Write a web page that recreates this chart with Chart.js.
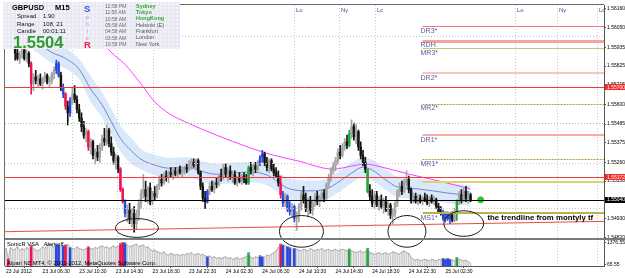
<!DOCTYPE html>
<html>
<head>
<meta charset="utf-8">
<script src="https://cdn.jsdelivr.net/npm/chart.js@4.4.1/dist/chart.umd.min.js"></script>
<style>
  html, body { margin: 0; padding: 0; background: #fff; }
  #wrap { position: relative; width: 625px; height: 278px; overflow: hidden; }
  #info {
    position: absolute; left: 3px; top: 2px; width: 177px; height: 47px;
    background-color: #e9e9f3;
    background-image: radial-gradient(#fbfbff 0.6px, transparent 0.9px);
    background-size: 4px 4px;
    font-family: 'Liberation Sans', Arial, sans-serif;
  }
  #info span { position: absolute; white-space: nowrap; line-height: 1; }
</style>
</head>
<body>
<div id="wrap">
  <canvas id="chart" width="625" height="278"></canvas>
  <div id="info"></div>
</div>
<script>
const FONT = "'Liberation Sans', Arial, sans-serif";

// ---- GBPUSD M15 bars, 23 Jul 02:30 .. 25 Jul ----
const opens = [
  1.5599,1.5597,1.5595,1.5596,1.5594,1.5590,1.5587,1.5589,1.5592,1.5587,
  1.5590,1.5584,1.5572,1.5576,1.5574,1.5575,1.5572,1.5575,1.5577,1.5573,
  1.5574,1.5578,1.5580,1.5584,1.5577,1.5570,1.5566,1.5559,1.5555,1.5562,
  1.5566,1.5563,1.5557,1.5552,1.5547,1.5542,1.5544,1.5535,1.5538,1.5530,
  1.5532,1.5529,1.5535,1.5540,1.5538,1.5545,1.5537,1.5532,1.5527,1.5529,
  1.5522,1.5510,1.5503,1.5496,1.5498,1.5493,1.5496,1.5490,1.5495,1.5502,
  1.5508,1.5510,1.5506,1.5511,1.5503,1.5508,1.5506,1.5512,1.5516,1.5514,
  1.5518,1.5517,1.5520,1.5519,1.5521,1.5519,1.5522,1.5520,1.5521,1.5523,
  1.5522,1.5525,1.5526,1.5524,1.5527,1.5520,1.5512,1.5505,1.5503,1.5509,
  1.5512,1.5510,1.5514,1.5513,1.5518,1.5517,1.5523,1.5519,1.5521,1.5517,
  1.5519,1.5514,1.5517,1.5515,1.5518,1.5516,1.5514,1.5523,1.5521,1.5524,
  1.5522,1.5526,1.5529,1.5531,1.5526,1.5523,1.5527,1.5522,1.5520,1.5518,
  1.5514,1.5507,1.5502,1.5506,1.5499,1.5497,1.5500,1.5493,1.5495,1.5500,
  1.5507,1.5504,1.5499,1.5503,1.5498,1.5502,1.5506,1.5503,1.5505,1.5508,
  1.5505,1.5513,1.5517,1.5521,1.5524,1.5527,1.5532,1.5530,1.5535,1.5538,
  1.5536,1.5543,1.5547,1.5541,1.5544,1.5535,1.5530,1.5526,1.5522,1.5509,
  1.5506,1.5502,1.5507,1.5501,1.5504,1.5500,1.5503,1.5498,1.5501,1.5495,
  1.5496,1.5502,1.5509,1.5512,1.5509,1.5514,1.5516,1.5510,1.5504,1.5506,
  1.5503,1.5505,1.5503,1.5505,1.5504,1.5502,1.5505,1.5503,1.5504,1.5500,
  1.5497,1.5496,1.5493,1.5496,1.5493,1.5495,1.5492,1.5497,1.5503,1.5507,
  1.5504,1.5509,1.5505,1.5507
];
const highs = [
  1.5602,1.5599,1.5598,1.5598,1.5595,1.5593,1.5591,1.5594,1.5594,1.5592,
  1.5591,1.5585,1.5578,1.5580,1.5577,1.5578,1.5576,1.5579,1.5578,1.5576,
  1.5579,1.5582,1.5586,1.5585,1.5579,1.5572,1.5567,1.5562,1.5564,1.5570,
  1.5571,1.5565,1.5560,1.5555,1.5550,1.5546,1.5545,1.5540,1.5539,1.5534,
  1.5536,1.5537,1.5542,1.5546,1.5548,1.5546,1.5541,1.5535,1.5531,1.5530,
  1.5523,1.5511,1.5504,1.5501,1.5502,1.5499,1.5500,1.5498,1.5504,1.5510,
  1.5519,1.5515,1.5512,1.5514,1.5509,1.5512,1.5513,1.5518,1.5519,1.5520,
  1.5521,1.5521,1.5523,1.5522,1.5523,1.5523,1.5524,1.5523,1.5524,1.5525,
  1.5527,1.5528,1.5528,1.5528,1.5528,1.5521,1.5514,1.5509,1.5510,1.5514,
  1.5515,1.5515,1.5517,1.5519,1.5522,1.5525,1.5525,1.5523,1.5524,1.5521,
  1.5521,1.5518,1.5520,1.5519,1.5520,1.5519,1.5524,1.5526,1.5525,1.5526,
  1.5527,1.5530,1.5533,1.5532,1.5529,1.5528,1.5528,1.5525,1.5523,1.5521,
  1.5518,1.5509,1.5508,1.5507,1.5503,1.5502,1.5501,1.5497,1.5502,1.5509,
  1.5512,1.5508,1.5505,1.5506,1.5504,1.5508,1.5509,1.5507,1.5510,1.5510,
  1.5514,1.5519,1.5523,1.5526,1.5529,1.5534,1.5536,1.5537,1.5540,1.5542,
  1.5545,1.5551,1.5549,1.5548,1.5545,1.5538,1.5533,1.5529,1.5522,1.5513,
  1.5510,1.5509,1.5509,1.5506,1.5507,1.5505,1.5506,1.5503,1.5502,1.5499,
  1.5503,1.5510,1.5514,1.5515,1.5516,1.5521,1.5518,1.5511,1.5508,1.5508,
  1.5507,1.5507,1.5506,1.5508,1.5507,1.5506,1.5507,1.5506,1.5505,1.5502,
  1.5500,1.5498,1.5497,1.5497,1.5496,1.5497,1.5499,1.5504,1.5509,1.5510,
  1.5511,1.5512,1.5509,1.5508
];
const lows = [
  1.5596,1.5594,1.5593,1.5593,1.5586,1.5586,1.5584,1.5587,1.5586,1.5585,
  1.5582,1.5566,1.5568,1.5572,1.5570,1.5571,1.5569,1.5573,1.5572,1.5570,
  1.5572,1.5575,1.5578,1.5576,1.5568,1.5564,1.5557,1.5548,1.5553,1.5560,
  1.5561,1.5555,1.5550,1.5544,1.5540,1.5538,1.5533,1.5531,1.5528,1.5525,
  1.5527,1.5526,1.5533,1.5536,1.5536,1.5535,1.5530,1.5525,1.5522,1.5520,
  1.5509,1.5502,1.5494,1.5491,1.5490,1.5488,1.5485,1.5487,1.5492,1.5499,
  1.5505,1.5503,1.5502,1.5501,1.5501,1.5504,1.5505,1.5510,1.5512,1.5513,
  1.5515,1.5514,1.5517,1.5516,1.5518,1.5517,1.5519,1.5517,1.5519,1.5520,
  1.5521,1.5522,1.5523,1.5522,1.5519,1.5510,1.5503,1.5499,1.5502,1.5507,
  1.5509,1.5508,1.5511,1.5512,1.5515,1.5516,1.5517,1.5515,1.5516,1.5514,
  1.5513,1.5512,1.5514,1.5513,1.5514,1.5513,1.5513,1.5519,1.5518,1.5520,
  1.5521,1.5524,1.5526,1.5524,1.5521,1.5520,1.5521,1.5518,1.5517,1.5512,
  1.5505,1.5500,1.5500,1.5497,1.5495,1.5494,1.5491,1.5486,1.5491,1.5498,
  1.5502,1.5497,1.5494,1.5496,1.5495,1.5500,1.5501,1.5500,1.5503,1.5503,
  1.5504,1.5511,1.5515,1.5519,1.5521,1.5525,1.5528,1.5529,1.5533,1.5534,
  1.5535,1.5540,1.5539,1.5537,1.5533,1.5528,1.5524,1.5520,1.5508,1.5504,
  1.5500,1.5499,1.5500,1.5498,1.5499,1.5496,1.5497,1.5495,1.5493,1.5490,
  1.5494,1.5500,1.5506,1.5507,1.5508,1.5512,1.5508,1.5502,1.5502,1.5502,
  1.5501,1.5502,1.5501,1.5503,1.5501,1.5500,1.5502,1.5501,1.5499,1.5496,
  1.5495,1.5492,1.5491,1.5492,1.5490,1.5491,1.5491,1.5492,1.5501,1.5502,
  1.5503,1.5503,1.5502,1.5503
];
const closes = [
  1.5597,1.5595,1.5596,1.5594,1.5590,1.5587,1.5589,1.5592,1.5587,1.5590,
  1.5584,1.5572,1.5576,1.5574,1.5575,1.5572,1.5575,1.5577,1.5573,1.5574,
  1.5578,1.5580,1.5584,1.5577,1.5570,1.5566,1.5559,1.5555,1.5562,1.5566,
  1.5563,1.5557,1.5552,1.5547,1.5542,1.5544,1.5535,1.5538,1.5530,1.5532,
  1.5529,1.5535,1.5540,1.5538,1.5545,1.5537,1.5532,1.5527,1.5529,1.5522,
  1.5510,1.5503,1.5496,1.5498,1.5493,1.5496,1.5490,1.5495,1.5502,1.5508,
  1.5510,1.5506,1.5511,1.5503,1.5508,1.5506,1.5512,1.5516,1.5514,1.5518,
  1.5517,1.5520,1.5519,1.5521,1.5519,1.5522,1.5520,1.5521,1.5523,1.5522,
  1.5525,1.5526,1.5524,1.5527,1.5520,1.5512,1.5505,1.5503,1.5509,1.5512,
  1.5510,1.5514,1.5513,1.5518,1.5517,1.5523,1.5519,1.5521,1.5517,1.5519,
  1.5514,1.5517,1.5515,1.5518,1.5516,1.5514,1.5523,1.5521,1.5524,1.5522,
  1.5526,1.5529,1.5531,1.5526,1.5523,1.5527,1.5522,1.5520,1.5518,1.5514,
  1.5507,1.5502,1.5506,1.5499,1.5497,1.5500,1.5493,1.5495,1.5500,1.5507,
  1.5504,1.5499,1.5503,1.5498,1.5502,1.5506,1.5503,1.5505,1.5508,1.5505,
  1.5513,1.5517,1.5521,1.5524,1.5527,1.5532,1.5530,1.5535,1.5538,1.5536,
  1.5543,1.5547,1.5541,1.5544,1.5535,1.5530,1.5526,1.5522,1.5509,1.5506,
  1.5502,1.5507,1.5501,1.5504,1.5500,1.5503,1.5498,1.5501,1.5495,1.5496,
  1.5502,1.5509,1.5512,1.5509,1.5514,1.5516,1.5510,1.5504,1.5506,1.5503,
  1.5505,1.5503,1.5505,1.5504,1.5502,1.5505,1.5503,1.5504,1.5500,1.5497,
  1.5496,1.5493,1.5496,1.5493,1.5495,1.5492,1.5497,1.5503,1.5507,1.5504,
  1.5509,1.5505,1.5507,1.5504
];
const volumes = [
  1050,420,1100,950,1000,1150,900,1050,950,1100,
  1000,1250,1050,950,900,1000,1150,1050,1250,1300,
  1200,1100,1300,1250,1150,1200,1250,1300,1100,1050,
  1000,1150,1050,1000,950,1050,1150,1050,1000,1100,
  1050,1150,1200,1100,1150,1050,1100,1200,1100,1150,
  1350,1400,1380,1250,1150,1200,1250,1300,1150,1200,
  1250,1100,1150,1000,900,950,850,800,750,850,
  700,650,750,700,650,700,600,700,650,750,
  700,800,650,700,750,650,700,600,550,600,
  500,550,450,500,450,500,550,450,500,400,
  450,500,400,450,500,550,780,500,450,550,
  500,600,550,500,650,600,700,800,900,1100,
  1300,1250,1200,1150,1100,1000,1050,1000,950,900,
  1000,950,900,1050,950,900,1000,950,1050,900,
  950,1000,900,950,1000,900,950,1000,950,900,
  1010,900,850,800,850,900,800,850,1050,800,
  750,700,750,800,700,750,800,700,750,850,
  800,750,700,850,900,800,750,500,400,350,
  400,300,350,400,350,300,400,350,300,400,
  350,450,400,450,400,350,300,500,400,350,
  300,350,250,150
];

// SonicR VSA highlighted bars (bar numbers)
const redBars = [1, 11, 26, 36, 50, 51, 120];
const blueBars = [22, 23, 25, 28, 52, 88, 111, 112, 121, 123, 124, 126, 191, 192, 193, 194];
const greenBars = [106, 150, 158, 197];

// moving averages (sampled)
const blueMaBars = [12, 20, 26, 32, 37, 42, 46, 50, 55, 59, 65, 71, 79, 85, 92, 99, 107, 114, 124, 133, 140, 146, 151, 156, 160, 166, 171, 180, 193, 203];
const blueMa = [1.55980, 1.55905, 1.55870, 1.55806, 1.55690, 1.55597, 1.55499, 1.55400, 1.55325, 1.55278, 1.55244, 1.55226, 1.55232, 1.55209, 1.55190, 1.55197, 1.55203, 1.55186, 1.55104, 1.55093, 1.55104, 1.55151, 1.55197, 1.55232, 1.55215, 1.55157, 1.55116, 1.55104, 1.55080, 1.55064];
const bandUpper = [1.56040, 1.55965, 1.55930, 1.55866, 1.55765, 1.55672, 1.55574, 1.55475, 1.55400, 1.55338, 1.55304, 1.55286, 1.55292, 1.55269, 1.55250, 1.55257, 1.55263, 1.55246, 1.55164, 1.55153, 1.55164, 1.55211, 1.55257, 1.55292, 1.55275, 1.55217, 1.55176, 1.55164, 1.55140, 1.55124];
const bandLower = [1.55920, 1.55845, 1.55810, 1.55746, 1.55615, 1.55522, 1.55424, 1.55325, 1.55250, 1.55218, 1.55184, 1.55166, 1.55172, 1.55149, 1.55130, 1.55137, 1.55143, 1.55126, 1.55044, 1.55033, 1.55044, 1.55091, 1.55137, 1.55172, 1.55155, 1.55097, 1.55056, 1.55044, 1.55020, 1.55004];
const magentaBars = [30, 38, 46, 52, 59, 65, 72, 78, 85, 99, 114, 128, 143, 151, 157, 166, 176, 189, 203];
const magentaMa = [1.56100, 1.56030, 1.55905, 1.55835, 1.55720, 1.55615, 1.55540, 1.55500, 1.55458, 1.55383, 1.55313, 1.55267, 1.55220, 1.55238, 1.55250, 1.55226, 1.55191, 1.55151, 1.55104];

// axes
const priceTicks = [1.54820, 1.54930, 1.55040, 1.55150, 1.55260, 1.55375, 1.55485, 1.55600, 1.55715, 1.55825, 1.55935, 1.56050, 1.56160];
const volumeTicks = [65.55, 1376.55];
const timeTickBars = [0, 16, 32, 48, 64, 80, 96, 112, 128, 144, 160, 176, 192];
const timeTickLabels = ['23 Jul 2012', '23 Jul 06:30', '23 Jul 10:30', '23 Jul 14:30', '23 Jul 18:30', '23 Jul 22:30', '24 Jul 02:30', '24 Jul 06:30', '24 Jul 10:30', '24 Jul 14:30', '24 Jul 18:30', '24 Jul 22:30', '25 Jul 02:30'];

// session separators
const londonOpenBars = [28.7, 125.7, 222.6];
const nyOpenBars = [48.7, 145.7, 240.9];
const londonCloseBars = [64.3, 161.3, 258.3];

// horizontal levels
const levelPrices = [1.56000, 1.55700, 1.55493, 1.55255, 1.55172, 1.55040, 1.54994];
const levelKinds = ['lavender', 'red', 'green', 'pink', 'red', 'bid', 'gray'];
const pivotNames = ['DR3*', 'RDH', 'MR3*', 'DR2*', 'MR2*', 'DR1*', 'MR1*', 'P', 'MS1*'];
const pivotPrices = [1.56058, 1.55974, 1.55928, 1.55783, 1.55603, 1.55418, 1.55278, 1.55145, 1.54960];
const pivotStartBar = 182;
const trendBars = [-1, 262];
const trendPrices = [1.54853, 1.54914];
const bidBar = 207.4;
const bidPrice = 1.55040;
const axisMarkPrices = [1.55700, 1.55172, 1.55040];
const axisMarkKinds = ['red', 'red', 'bid'];

// hand drawn circles (bar, price, half width in bars, half height in price)
const circleBars = [57.2, 129.1, 175.2, 200];
const circlePrices = [1.54875, 1.54855, 1.54855, 1.54901];
const circleBarSpan = [9.35, 9.6, 8.3, 8.7];
const circlePriceSpan = [0.00055, 0.00093, 0.00093, 0.00075];
const noteBar = 210.4;
const noteText = 'the trendline from montyly tf';

// info panel
const clockTimes = ['12:58 PM', '11:58 AM', '10:58 AM', '05:58 AM', '04:58 AM', '03:58 AM', '10:58 PM'];
const clockCities = ['Sydney', 'Tokyo', 'HongKong', 'Helsinki (E)', 'Frankfurt', 'London', 'New York'];
const openMarkets = ['Sydney', 'Tokyo', 'HongKong'];

// ---- styles ----
const RED = '#f0124c', BLUE = '#2a48de', GREEN = '#1ea83c', UP = '#a4a4a4', DOWN = '#141414';
const LEVEL_STYLE = {
  lavender: { color: '#bcbce8', width: 1, dash: [1, 2] },
  red: { color: '#f23a3a', width: 1, dash: [] },
  green: { color: '#7ed87e', width: 1, dash: [1, 2] },
  pink: { color: '#e4bccc', width: 1, dash: [1, 2] },
  bid: { color: '#000000', width: 1, dash: [] },
  gray: { color: '#c8c8c8', width: 1, dash: [1, 2] }
};
const PIVOT_STYLE = {
  'DR3*': { color: '#f07a7a', width: 1, dash: [] },
  'RDH': { color: '#f4a4a0', width: 3, dash: [] },
  'MR3*': { color: '#c8c47c', width: 1, dash: [] },
  'DR2*': { color: '#f8c4bc', width: 2, dash: [] },
  'MR2*': { color: '#b4a032', width: 1, dash: [2, 1] },
  'DR1*': { color: '#f4aca4', width: 2, dash: [] },
  'MR1*': { color: '#b4a032', width: 1, dash: [2, 1] },
  'P': { color: '#dcd46c', width: 2, dash: [], hideLabel: true },
  'MS1*': { color: '#bcb050', width: 2, dash: [] }
};

function vsaColor(k) {
  if (redBars.includes(k)) return RED;
  if (blueBars.includes(k)) return BLUE;
  if (greenBars.includes(k)) return GREEN;
  return null;
}

const candleColors = closes.map((c, k) => vsaColor(k) || (c >= opens[k] ? UP : DOWN));
const flaggedVolume = volumes.map((v, k) => ({ x: k, y: v, c: vsaColor(k) })).filter(p => p.c);

function crisp(v, w) { return w % 2 ? Math.round(v) + 0.5 : Math.round(v); }

function hLine(ctx, x0, x1, py, st) {
  ctx.setLineDash(st.dash);
  ctx.strokeStyle = st.color;
  ctx.lineWidth = st.width;
  const yy = crisp(py, st.width);
  ctx.beginPath(); ctx.moveTo(x0, yy); ctx.lineTo(x1, yy); ctx.stroke();
}

const mtOverlay = {
  id: 'mtOverlay',
  beforeDatasetsDraw(chart) {
    const { ctx, chartArea: area, scales: { x } } = chart;
    ctx.save();
    ctx.beginPath();
    ctx.rect(area.left, area.top, area.right - area.left, area.bottom - area.top);
    ctx.clip();
    ctx.setLineDash([1, 2]);
    ctx.strokeStyle = '#c6c6dc';
    ctx.lineWidth = 1;
    [...londonOpenBars, ...nyOpenBars, ...londonCloseBars].forEach(b => {
      const px = Math.round(x.getPixelForValue(b)) + 0.5;
      ctx.beginPath(); ctx.moveTo(px, area.top); ctx.lineTo(px, area.bottom); ctx.stroke();
    });
    ctx.restore();
  },
  afterDatasetsDraw(chart) {
    const { ctx, chartArea: area, scales: { x, y } } = chart;
    ctx.save();
    ctx.beginPath();
    ctx.rect(area.left, area.top, area.right - area.left, y.bottom - area.top);
    ctx.clip();

    levelPrices.forEach((p, i) => hLine(ctx, area.left, area.right, y.getPixelForValue(p), LEVEL_STYLE[levelKinds[i]]));

    const px0 = x.getPixelForValue(pivotStartBar);
    pivotNames.forEach((name, i) => hLine(ctx, px0, area.right, y.getPixelForValue(pivotPrices[i]), PIVOT_STYLE[name]));
    ctx.setLineDash([]);

    ctx.font = '7px ' + FONT;
    ctx.fillStyle = '#5a5aa0';
    ctx.textBaseline = 'middle';
    ctx.textAlign = 'left';
    pivotNames.forEach((name, i) => {
      if (PIVOT_STYLE[name].hideLabel) return;
      ctx.fillText(name, px0 - 2, y.getPixelForValue(pivotPrices[i]) + 4.5);
    });

    ctx.font = 'bold 7.8px ' + FONT;
    ctx.fillStyle = '#000';
    ctx.fillText(noteText, x.getPixelForValue(noteBar), y.getPixelForValue(pivotPrices[8]) + 4.5);

    ctx.font = '6px ' + FONT;
    ctx.fillStyle = '#4b4b96';
    [['Lo', londonOpenBars], ['Ny', nyOpenBars], ['Lc', londonCloseBars]].forEach(([name, bars]) => {
      bars.forEach(b => ctx.fillText(name, Math.round(x.getPixelForValue(b)) + 2, area.top + 5));
    });
    ctx.restore();

    // circles drawn by hand on the chart
    ctx.save();
    ctx.strokeStyle = '#1a1a1a';
    ctx.lineWidth = 1;
    circleBars.forEach((b, i) => {
      const cx = x.getPixelForValue(b);
      const cy = y.getPixelForValue(circlePrices[i]);
      const rx = Math.abs(x.getPixelForValue(b + circleBarSpan[i]) - cx);
      const ry = Math.abs(y.getPixelForValue(circlePrices[i] + circlePriceSpan[i]) - cy);
      ctx.beginPath(); ctx.ellipse(cx, cy, rx, ry, 0, 0, Math.PI * 2); ctx.stroke();
    });
    ctx.restore();
  },
  afterDraw(chart) {
    const { ctx, chartArea: area, scales: { y, yv } } = chart;
    const W = chart.width;
    ctx.save();
    // frame
    ctx.strokeStyle = '#6a6a6a';
    ctx.lineWidth = 1;
    ctx.beginPath();
    ctx.moveTo(area.left - 0.5, area.bottom); ctx.lineTo(area.left - 0.5, area.top - 0.5); ctx.lineTo(area.right, area.top - 0.5);
    ctx.stroke();
    ctx.fillStyle = '#7a7a7a';
    ctx.fillRect(area.left, Math.round(y.bottom), W - area.left, 2);

    // price marks on the axis
    ctx.font = '5px ' + FONT;
    ctx.textBaseline = 'middle';
    ctx.textAlign = 'left';
    axisMarkPrices.forEach((p, i) => {
      const py = y.getPixelForValue(p);
      ctx.fillStyle = axisMarkKinds[i] === 'red' ? '#f52a2a' : '#000';
      ctx.fillRect(Math.round(y.left) + 1, Math.round(py) - 3, W - y.left, 6);
      ctx.fillStyle = '#fff';
      ctx.fillText(p.toFixed(5), y.left + 3, py);
    });

    // indicator window captions
    ctx.fillStyle = '#000';
    ctx.font = '5.8px ' + FONT;
    ctx.fillText('SonicR VSA   Alert off.', area.left + 2, yv.top + 6);
    ctx.fillText('Alpari NZ MT4, \u00a9 2001-2012, MetaQuotes Software Corp.', area.left + 2, yv.bottom - 3);
    ctx.restore();
  }
};

const Y_MAX = 1.561832, Y_MIN = 1.548143;

new Chart(document.getElementById('chart'), {
  type: 'bar',
  data: {
    datasets: [
      {
        type: 'line', label: 'band upper', yAxisID: 'y',
        data: blueMaBars.map((b, i) => ({ x: b, y: bandUpper[i] })),
        borderWidth: 0, pointRadius: 0, fill: false, cubicInterpolationMode: 'monotone', order: 20
      },
      {
        type: 'line', label: 'band lower', yAxisID: 'y',
        data: blueMaBars.map((b, i) => ({ x: b, y: bandLower[i] })),
        borderWidth: 0, pointRadius: 0, fill: '-1', backgroundColor: 'rgba(208,228,248,0.8)',
        cubicInterpolationMode: 'monotone', order: 19
      },
      {
        type: 'line', label: 'slow MA', yAxisID: 'y',
        data: magentaBars.map((b, i) => ({ x: b, y: magentaMa[i] })),
        borderColor: '#ff3cff', borderWidth: 1, pointRadius: 0, cubicInterpolationMode: 'monotone', order: 15
      },
      {
        type: 'line', label: 'fast MA', yAxisID: 'y',
        data: blueMaBars.map((b, i) => ({ x: b, y: blueMa[i] })),
        borderColor: '#7d80cf', borderWidth: 1, pointRadius: 0, cubicInterpolationMode: 'monotone', order: 14
      },
      {
        label: 'volume', yAxisID: 'yv',
        data: volumes.map((v, k) => ({ x: k, y: v })),
        backgroundColor: '#cdcdcd', barThickness: 1, grouped: false, order: 12
      },
      {
        label: 'vsa volume', yAxisID: 'yv',
        data: flaggedVolume.map(p => ({ x: p.x, y: p.y })),
        backgroundColor: flaggedVolume.map(p => p.c), barThickness: 2, grouped: false, order: 11
      },
      {
        type: 'line', label: 'volume line', yAxisID: 'yv',
        data: volumes.map((v, k) => ({ x: k, y: v })),
        borderColor: '#9c9c9c', borderWidth: 0.8, pointRadius: 0, order: 10
      },
      {
        label: 'wicks', yAxisID: 'y',
        data: opens.map((o, k) => ({ x: k, y: [lows[k], highs[k]] })),
        backgroundColor: candleColors, barThickness: 1, grouped: false, order: 6
      },
      {
        label: 'bodies', yAxisID: 'y',
        data: opens.map((o, k) => ({ x: k, y: [o, closes[k]] })),
        backgroundColor: candleColors, barThickness: 1.8, minBarLength: 1, grouped: false, order: 5
      },
      {
        type: 'line', label: 'monthly trendline', yAxisID: 'y',
        data: trendBars.map((b, i) => ({ x: b, y: trendPrices[i] })),
        borderColor: '#f04848', borderWidth: 1, pointRadius: 0, order: 3
      },
      {
        type: 'line', label: 'bid', yAxisID: 'y',
        data: [{ x: bidBar, y: bidPrice }],
        showLine: false, pointRadius: 3, backgroundColor: '#22cc22', borderColor: '#22cc22', order: 1
      }
    ]
  },
  options: {
    responsive: false,
    animation: false,
    devicePixelRatio: 1,
    layout: { padding: { left: 2, top: 2, right: 0, bottom: 0 } },
    plugins: { legend: { display: false }, tooltip: { enabled: false }, title: { display: false } },
    scales: {
      x: {
        type: 'linear', min: -0.435, max: 261.3, offset: false,
        afterBuildTicks: s => { s.ticks = timeTickBars.map(v => ({ value: v })); },
        afterFit: s => { s.height = 12; s.paddingLeft = 0; s.paddingRight = 0; },
        ticks: {
          align: 'start', autoSkip: false, maxRotation: 0, padding: 1, color: '#000',
          font: { family: FONT, size: 5 },
          callback: (v, i) => timeTickLabels[i]
        },
        grid: { drawOnChartArea: false, drawTicks: true, tickLength: 2, color: '#555' },
        border: { color: '#555' }
      },
      y: {
        position: 'right', stack: 'panes', stackWeight: 236, min: Y_MIN, max: Y_MAX,
        afterBuildTicks: s => { s.ticks = priceTicks.map(v => ({ value: v })); },
        afterFit: s => { s.width = 21; s.paddingTop = 0; s.paddingBottom = 0; },
        ticks: { autoSkip: false, padding: 1, color: '#000', font: { family: FONT, size: 5 }, callback: v => v.toFixed(5) },
        grid: { drawOnChartArea: false, tickLength: 2, color: '#555' },
        border: { color: '#555' }
      },
      yv: {
        position: 'right', stack: 'panes', stackWeight: 28, min: 0, max: 1650,
        afterBuildTicks: s => { s.ticks = volumeTicks.map(v => ({ value: v })); },
        afterFit: s => { s.width = 21; s.paddingTop = 0; s.paddingBottom = 0; },
        ticks: { autoSkip: false, padding: 1, color: '#000', font: { family: FONT, size: 5 }, callback: v => v.toFixed(2) },
        grid: { drawOnChartArea: false, tickLength: 2, color: '#555' },
        border: { color: '#555' }
      }
    }
  },
  plugins: [mtOverlay]
});

// ---- info panel (top left) ----
const info = document.getElementById('info');
function put(text, left, top, size, color, bold) {
  const s = document.createElement('span');
  s.textContent = text;
  s.style.left = left + 'px';
  s.style.top = top + 'px';
  s.style.fontSize = size + 'px';
  s.style.color = color;
  if (bold) s.style.fontWeight = 'bold';
  info.appendChild(s);
}
put('GBPUSD', 9, 2.3, 7.5, '#000', true);
put('M15', 52, 2.3, 7.5, '#000', true);
put('Spread', 14, 11, 6, '#111');
put('1.90', 40, 11, 6, '#111');
put('Range', 14, 18.5, 6, '#111');
put('108, 21', 40, 18.5, 6, '#111');
put('Candle', 14, 26, 6, '#111');
put('00:01:11', 40, 26, 6, '#111');
put('1.5504', 10, 31.6, 16.5, '#2d9c2d', true);
put('S', 81, 1.9, 9.5, '#2f55e6', true);
put('o', 82.5, 12, 6, '#8c96e6');
put('n', 82.5, 19, 6, '#a89ad8');
put('i', 84, 26, 6, '#c8a0cc');
put('c', 82.8, 33, 6, '#e67890');
put('R', 81, 37.8, 9.5, '#ea2050', true);
clockTimes.forEach((t, i) => put(t, 102, 1.9 + 6.35 * i, 5, '#6a6a6a'));
clockCities.forEach((c, i) => put(c, 133, 1.6 + 6.35 * i, 5.5, openMarkets.includes(c) ? '#35a535' : '#555', openMarkets.includes(c)));
</script>
</body>
</html>
